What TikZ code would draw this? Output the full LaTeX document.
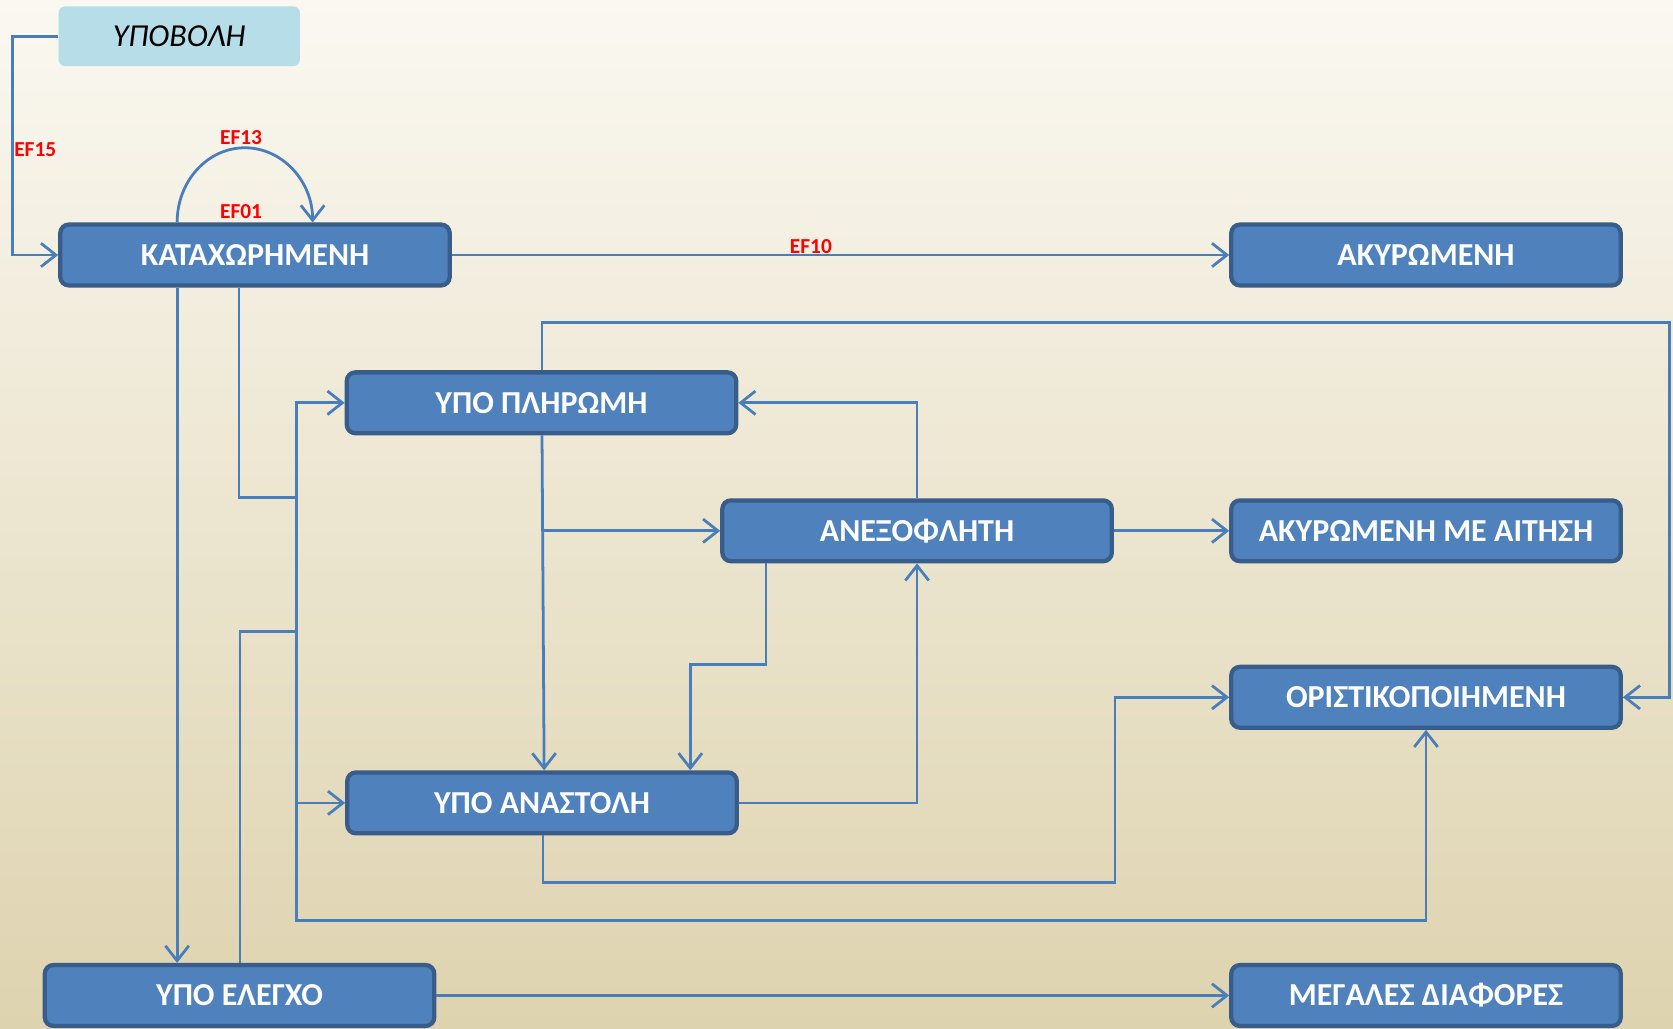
\documentclass[tikz,border=0pt]{standalone}
\usepackage{fontspec}
\setmainfont{Carlito}
\usetikzlibrary{arrows.meta}
\definecolor{boxfill}{HTML}{4F81BD}
\definecolor{boxline}{HTML}{385D8A}
\definecolor{conncol}{HTML}{4A7EBB}
\definecolor{lblue}{HTML}{B7DEE8}
\definecolor{bgtop}{HTML}{FAF8F1}
\definecolor{bgmid}{HTML}{F2EDDC}
\definecolor{bgbot}{HTML}{DED3AF}
\begin{document}
\begin{tikzpicture}[x=1pt,y=-1pt,
  state/.style={draw=boxline, line width=4pt, fill=boxfill, rounded corners=8pt,
    minimum width=365pt, minimum height=57pt, inner sep=0pt, text=white,
    font=\fontsize{30}{32}\selectfont\bfseries},
  conn/.style={draw=conncol, line width=2.6pt},
  arr/.style={conn, -{Straight Barb[length=14pt,width=22pt]}},
  lbl/.style={text=red, font=\fontsize{20}{22}\selectfont\bfseries, inner sep=0pt}
]
\shade[top color=bgtop, middle color=bgmid, bottom color=bgbot] (0,0) rectangle (1568,964);
\useasboundingbox (0,0) rectangle (1568,964);

% x positions
\coordinate (xA) at (166,0);
\coordinate (xB) at (224,0);
\coordinate (xC) at (225,0);
\coordinate (xD) at (508,0);
\coordinate (xD2) at (510,0);
\coordinate (xF) at (718,0);
\coordinate (xG) at (647,0);
\coordinate (xH) at (509,0);
\coordinate (xL1) at (166,0);

% nodes
\node[fill=lblue, rounded corners=6pt, minimum width=226pt, minimum height=56pt,
  inner sep=0pt, font=\fontsize{30}{32}\selectfont\itshape] (ypo) at (168,34) {ΥΠΟΒΟΛΗ};
\node[state] (katax) at (239,239) {ΚΑΤΑΧΩΡΗΜΕΝΗ};
\node[state] (akyr) at (1336.5,239) {ΑΚΥΡΩΜΕΝΗ};
\node[state] (plir) at (507.5,377.5) {ΥΠΟ ΠΛΗΡΩΜΗ};
\node[state] (anex) at (859.5,497.5) {ΑΝΕΞΟΦΛΗΤΗ};
\node[state] (aait) at (1336.5,497.5) {ΑΚΥΡΩΜΕΝΗ ΜΕ ΑΙΤΗΣΗ};
\node[state] (orist) at (1336.5,653.5) {ΟΡΙΣΤΙΚΟΠΟΙΗΜΕΝΗ};
\node[state] (anast) at (508,752.5) {ΥΠΟ ΑΝΑΣΤΟΛΗ};
\node[state] (elegxo) at (224.5,933) {ΥΠΟ ΕΛΕΓΧΟ};
\node[state] (megal) at (1336.5,933) {ΜΕΓΑΛΕΣ ΔΙΑΦΟΡΕΣ};

% labels
\node[lbl] (ef15) at (33,140) {EF15};
\node[lbl] (ef13) at (226,129) {EF13};
\node[lbl] (ef01) at (226,198) {EF01};
\node[lbl] (ef10) at (760,231) {EF10};

% connectors
\draw[arr] (ypo.west) -- (12,34) |- (katax.west);
\draw[arr] (katax.north -| xL1) arc[start angle=180, end angle=360, x radius=63.5, y radius=70];
\draw[arr] (katax.east) -- (akyr.west);
\draw[arr] (katax.south -| xA) -- (elegxo.north -| xA);
\draw[arr] (katax.south -| xB) |- (278,466) |- (plir.west);
\draw[arr] (278,466) |- (anast.west);
\draw[arr] (elegxo.north -| xC) |- (278,592) -- (278,863) -| (orist.south);
\draw[arr] (elegxo.east) -- (megal.west);
\draw[arr] (plir.north -| xD) |- (1565,302) |- (orist.east);
\draw[arr] (plir.south -| xD) -- (anast.north -| xD2);
\draw[arr] (508,497.5) -- (anex.west);
\draw[arr] (anex.north) |- (plir.east);
\draw[arr] (anex.east) -- (aait.west);
\draw[arr] (anex.south -| xF) |- (647,623) -- (anast.north -| xG);
\draw[arr] (anast.east) -| (anex.south);
\draw[arr] (anast.south -| xH) |- (1045,827) |- (orist.west);
\end{tikzpicture}
\end{document}
